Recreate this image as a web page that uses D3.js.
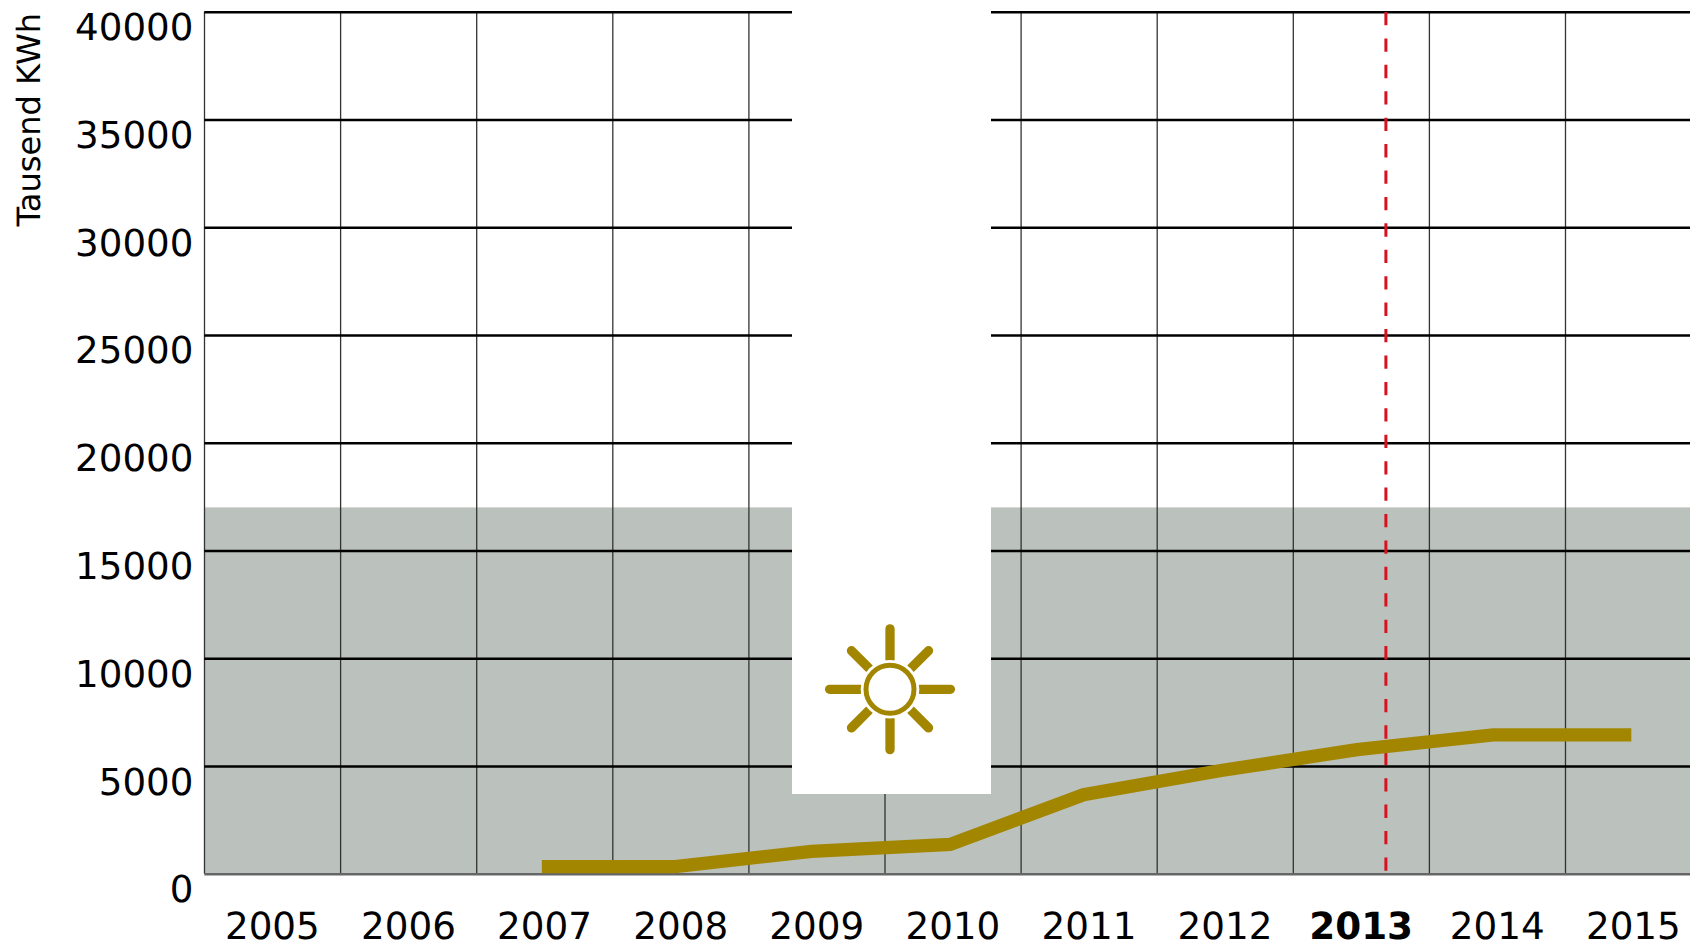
<!DOCTYPE html>
<html><head><meta charset="utf-8">
<script src="https://cdn.jsdelivr.net/npm/d3@7"></script>
<style>
html,body{margin:0;padding:0;background:#fff;overflow:hidden}
svg{display:block}
text{font-family:"DejaVu Sans",sans-serif;fill:#000;text-rendering:geometricPrecision}
</style></head><body>
<svg id="c" width="1690" height="946"></svg>
<script>
const years = [2005,2006,2007,2008,2009,2010,2011,2012,2013,2014,2015];
const lineYears = [2006.98,2007.96,2008.96,2009.98,2010.96,2011.97,2012.97,2013.97,2014.985];
const lineValues = [330,330,1044,1360,3670,4790,5760,6450,6450];
const yTicks = [0,5000,10000,15000,20000,25000,30000,35000,40000];
const bandValue = 17000;
const highlightYear = 2013;
const yTitle = "Tausend KWh";

const svg = d3.select("#c");
const L = 204.3, B = 873.8, T = 11.7, step = 136.1;
const x = d3.scaleBand().domain(years).range([L, L + step * years.length]);
const xLine = d3.scaleLinear().domain([2005,2015]).range([L + step/2, L + step*10.5]);
const y = d3.scaleLinear().domain([0,40000]).range([B,T]);

// grey band
svg.append("rect").attr("x",L).attr("y",y(bandValue))
  .attr("width",1690-L).attr("height",B-y(bandValue)).attr("fill","#bbc1bc");

// vertical grid
svg.append("g").selectAll("line").data(years).join("line")
  .attr("x1",d=>x(d)+.2).attr("x2",d=>x(d)+.2).attr("y1",T).attr("y2",B)
  .attr("stroke","#333").attr("stroke-width",1.3);

// horizontal grid
const gy = svg.append("g").attr("transform",`translate(${L},0)`)
  .call(d3.axisLeft(y).tickValues(yTicks).tickSize(-(1690-L)).tickPadding(10.9).tickFormat(d3.format("d")));
gy.select(".domain").remove();
gy.selectAll(".tick line").attr("stroke",d=>d===0?"#666":"#000").attr("stroke-width",2.5);
gy.selectAll(".tick text").attr("font-size",37.2).attr("dy",0).attr("y",28).style("font-family",'"DejaVu Sans"').attr("fill","#000");

// white gap
svg.append("rect").attr("x",792).attr("y",0).attr("width",199).attr("height",794).attr("fill","#fff");

// x labels
const gx = svg.append("g").attr("transform",`translate(0,${B})`)
  .call(d3.axisBottom(x).tickSize(0).tickPadding(0));
gx.select(".domain").remove();
gx.selectAll(".tick text").attr("font-size",37.3).attr("dy",0).attr("y",65.3)
  .attr("font-weight",d=>d===highlightYear?"bold":"normal")
  .style("font-family",'"DejaVu Sans"').attr("fill","#000");

// highlight line
const hx = x(highlightYear) + 92.8;
svg.append("line").attr("x1",hx).attr("x2",hx).attr("y1",12).attr("y2",871)
  .attr("stroke","#d7121f").attr("stroke-width",3).attr("stroke-dasharray","13.3 13.12");

// series
const data = lineYears.map((d,i)=>[d,lineValues[i]]);
svg.append("path").datum(data)
  .attr("d",d3.line().x(d=>xLine(d[0])).y(d=>y(d[1])))
  .attr("fill","none").attr("stroke","#a38600").attr("stroke-width",13.3).attr("stroke-linejoin","miter");

// sun icon
const sx = 890, sy = 689.3, sun = svg.append("g").attr("transform",`translate(${sx},${sy})`);
d3.range(8).forEach(i=>{
  const a = i*Math.PI/4, o = i%2 ? 54.5 : 60.4;
  sun.append("line").attr("x1",30*Math.cos(a)).attr("y1",30*Math.sin(a))
    .attr("x2",o*Math.cos(a)).attr("y2",o*Math.sin(a))
    .attr("stroke","#a38600").attr("stroke-width",9.3).attr("stroke-linecap","round");
});
sun.append("circle").attr("r",29.3).attr("fill","#fff");
sun.append("circle").attr("r",24).attr("fill","#fff").attr("stroke","#a38600").attr("stroke-width",5);

// y title
svg.append("text").attr("transform","translate(39.7,13) rotate(-90)")
  .attr("text-anchor","end").attr("font-size",32.1).text(yTitle);
</script>
</body></html>
